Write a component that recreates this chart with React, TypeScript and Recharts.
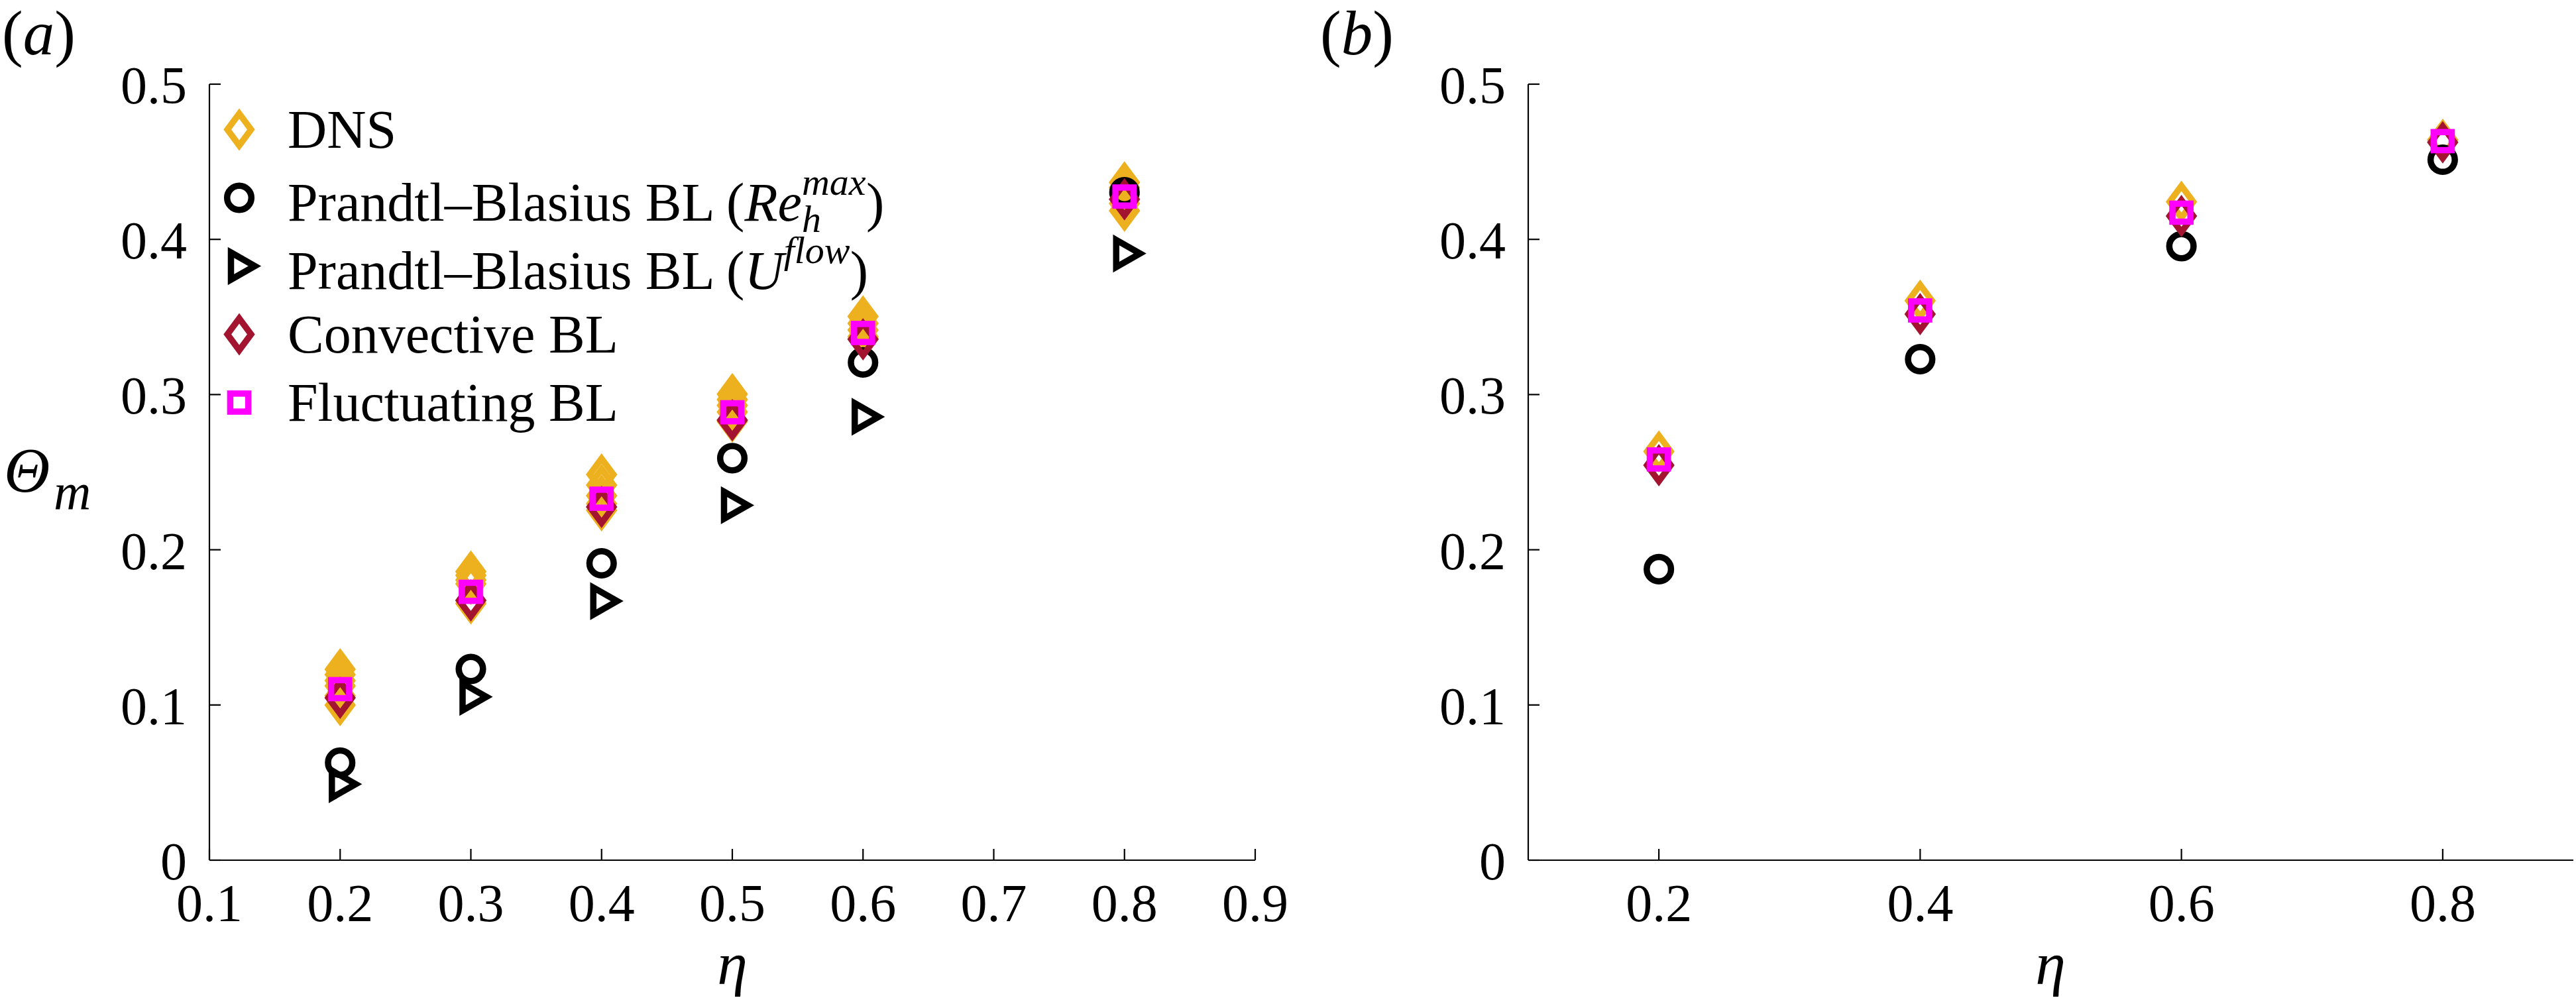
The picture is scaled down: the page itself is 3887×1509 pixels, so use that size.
import React from "react";
import { Legend, Scatter, ScatterChart, XAxis, YAxis } from "recharts";

const FONT = "'Liberation Serif', 'Times New Roman', serif";

// panel (a): eta values and Theta_m
const etaA = [0.2, 0.3, 0.4, 0.5, 0.6, 0.8];
const dnsA = [
  [0.123, 0.1196, 0.1157, 0.1123, 0.106, 0.0999],
  [0.186, 0.1835, 0.1805, 0.178, 0.1654],
  [0.2485, 0.2417, 0.2348, 0.2297, 0.2254],
  [0.3003, 0.2968, 0.293, 0.2888, 0.2827],
  [0.3503, 0.3459, 0.3416, 0.3373, 0.336],
  [0.4367, 0.4334, 0.4291, 0.4231, 0.4184],
];
const pbReA = [0.0628, 0.1232, 0.1913, 0.259, 0.3207, 0.4304];
const pbUA = [0.049, 0.1052, 0.1669, 0.2287, 0.2857, 0.3909];
const convA = [0.1046, 0.1674, 0.2276, 0.2835, 0.3356, 0.4258];
const fluctA = [0.1102, 0.1729, 0.2329, 0.2886, 0.3397, 0.4276];

// panel (b)
const etaB = [0.2, 0.4, 0.6, 0.8];
const dnsB = [0.2633, 0.3605, 0.4242, 0.4641];
const pbReB = [0.1875, 0.3228, 0.3956, 0.4513];
const convB = [0.2545, 0.3518, 0.415, 0.4625];
const fluctB = [0.2582, 0.3542, 0.4172, 0.4633];

const xTicksA = [0.1, 0.2, 0.3, 0.4, 0.5, 0.6, 0.7, 0.8, 0.9];
const xTicksB = [0.2, 0.4, 0.6, 0.8];
const yTicks = [0, 0.1, 0.2, 0.3, 0.4, 0.5];

const YELLOW = "#EDB120";
const RED = "#A2142F";
const MAGENTA = "#FF00FF";
const BLACK = "#000000";

const SW = 9.5; // marker edge width
const TICK = 17;
const AXIS_W = 2.2;

const pts = (xs: number[], ys: number[]) => xs.map((x, i) => ({ x, y: ys[i] }));
const multi = (xs: number[], ys: number[][]) =>
  xs.flatMap((x, i) => ys[i].map((y) => ({ x, y })));

function Marker({ kind, cx, cy, color }: any) {
  if (kind === "diamond")
    return (
      <path
        d={`M${cx},${cy - 24}L${cx + 17.8},${cy}L${cx},${cy + 24}L${cx - 17.8},${cy}Z`}
        fill="none" stroke={color} strokeWidth={SW} strokeMiterlimit={10}
      />
    );
  if (kind === "circle")
    return <circle cx={cx} cy={cy} r={18.3} fill="none" stroke={color} strokeWidth={SW} />;
  if (kind === "triangle")
    return (
      <path
        d={`M${cx - 12.5},${cy - 20.5}L${cx + 23.5},${cy}L${cx - 12.5},${cy + 20.5}Z`}
        fill="none" stroke={color} strokeWidth={SW} strokeMiterlimit={10}
      />
    );
  return (
    <rect x={cx - 13.6} y={cy - 13.6} width={27.2} height={27.2}
      fill="none" stroke={color} strokeWidth={SW} />
  );
}

const shape = (kind: string, color: string) => (p: any) =>
  <Marker kind={kind} cx={p.cx} cy={p.cy} color={color} />;

function BottomTick({ x, y, payload }: any) {
  return (
    <g>
      <line x1={x} y1={y} x2={x} y2={y - TICK} stroke={BLACK} strokeWidth={AXIS_W} />
      <text x={x} y={y + 92} textAnchor="middle" fontFamily={FONT} fontSize={80} fill={BLACK}>
        {payload.value}
      </text>
    </g>
  );
}
function TopTick({ x, y }: any) {
  return <line x1={x} y1={y} x2={x} y2={y + TICK} stroke={BLACK} strokeWidth={AXIS_W} />;
}
function LeftTick({ x, y, payload }: any) {
  return (
    <g>
      <line x1={x} y1={y} x2={x + TICK} y2={y} stroke={BLACK} strokeWidth={AXIS_W} />
      <text x={x - 34} y={y + 29} textAnchor="end" fontFamily={FONT} fontSize={80} fill={BLACK}>
        {payload.value}
      </text>
    </g>
  );
}
function RightTick({ x, y }: any) {
  return <line x1={x} y1={y} x2={x - TICK} y2={y} stroke={BLACK} strokeWidth={AXIS_W} />;
}

const supStyle: React.CSSProperties = {
  position: "absolute", left: 0, fontSize: 58, lineHeight: "58px", fontStyle: "italic",
};

const legendItems = [
  { kind: "diamond", color: YELLOW, label: <>DNS</> },
  {
    kind: "circle", color: BLACK,
    label: (
      <>
        Prandtl–Blasius BL (<i>Re</i>
        <span style={{ display: "inline-block", position: "relative", width: 97, height: 82 }}>
          <span style={{ ...supStyle, top: -5 }}>max</span>
          <span style={{ ...supStyle, top: 51 }}>h</span>
        </span>)
      </>
    ),
  },
  {
    kind: "triangle", color: BLACK,
    label: (
      <>
        Prandtl–Blasius BL (<i>U</i>
        <span style={{ display: "inline-block", position: "relative", width: 100, height: 82 }}>
          <span style={{ ...supStyle, top: -5 }}>flow</span>
        </span>)
      </>
    ),
  },
  { kind: "diamond", color: RED, label: <>Convective BL</> },
  { kind: "square", color: MAGENTA, label: <>Fluctuating BL</> },
];

function LegendBox() {
  return (
    <div>
      {legendItems.map((it, i) => (
        <div key={i} style={{ display: "flex", alignItems: "center", height: 103 }}>
          <svg width={72} height={103}>
            <Marker kind={it.kind} cx={36} cy={51.5} color={it.color} />
          </svg>
          <span style={{ marginLeft: 37, fontFamily: FONT, fontSize: 82, lineHeight: "82px", whiteSpace: "nowrap", color: BLACK }}>
            {it.label}
          </span>
        </div>
      ))}
    </div>
  );
}

function Axes({ xTicks }: { xTicks: number[] }) {
  return null;
}

function Panel({ width, left, xTicks, legend, series }: any) {
  const axisProps = {
    type: "number" as const,
    allowDataOverflow: true,
    tickSize: 0,
    tickMargin: 0,
    interval: 0 as const,
    axisLine: { stroke: BLACK, strokeWidth: AXIS_W },
  };
  return (
    <div style={{ position: "absolute", left, top: 0 }}>
      <ScatterChart width={width} height={1509} margin={legend
        ? { top: 127, left: 216, right: 56, bottom: 111 }
        : { top: 127, left: 256, right: 4, bottom: 111 }}>
        <XAxis xAxisId="b" dataKey="x" domain={[0.1, 0.9]} ticks={xTicks} height={100} tick={BottomTick} {...axisProps} />
        <XAxis xAxisId="t" orientation="top" dataKey="x" domain={[0.1, 0.9]} ticks={xTicks} height={0} tick={TopTick} {...axisProps} />
        <YAxis yAxisId="l" dataKey="y" domain={[0, 0.5]} ticks={yTicks} width={100} tick={LeftTick} {...axisProps} />
        <YAxis yAxisId="r" orientation="right" dataKey="y" domain={[0, 0.5]} ticks={yTicks} width={0} tick={RightTick} {...axisProps} />
        {series.map((s: any) => (
          <Scatter key={s.name} name={s.name} data={s.data} xAxisId="b" yAxisId="l"
            fill={s.color} shape={shape(s.kind, s.color)} isAnimationActive={false} />
        ))}
        {legend && (
          <Legend layout="vertical" align="center" verticalAlign="middle"
            wrapperStyle={{ left: 325, top: 144, width: 1300 }} content={() => <LegendBox />} />
        )}
      </ScatterChart>
    </div>
  );
}

const seriesA = [
  { name: "DNS", kind: "diamond", color: YELLOW, data: multi(etaA, dnsA) },
  { name: "PB Re", kind: "circle", color: BLACK, data: pts(etaA, pbReA) },
  { name: "PB U", kind: "triangle", color: BLACK, data: pts(etaA, pbUA) },
  { name: "Convective BL", kind: "diamond", color: RED, data: pts(etaA, convA) },
  { name: "Fluctuating BL", kind: "square", color: MAGENTA, data: pts(etaA, fluctA) },
];
const seriesB = [
  { name: "DNS", kind: "diamond", color: YELLOW, data: pts(etaB, dnsB) },
  { name: "PB Re", kind: "circle", color: BLACK, data: pts(etaB, pbReB) },
  { name: "Convective BL", kind: "diamond", color: RED, data: pts(etaB, convB) },
  { name: "Fluctuating BL", kind: "square", color: MAGENTA, data: pts(etaB, fluctB) },
];

export default function App() {
  return (
    <div style={{ position: "absolute", left: 0, top: 0, width: 3887, height: 1509, background: "#fff" }}>
      <Panel width={1950} left={0} xTicks={xTicksA} legend series={seriesA} />
      <Panel width={1937} left={1950} xTicks={xTicksB} legend={false} series={seriesB} />
      <svg width={3887} height={1509} style={{ position: "absolute", left: 0, top: 0, pointerEvents: "none" }}
        fontFamily={FONT} fill={BLACK}>
        <text x={3} y={82} fontSize={95}>(<tspan fontStyle="italic">a</tspan>)</text>
        <text x={1992} y={82} fontSize={95}>(<tspan fontStyle="italic">b</tspan>)</text>
        <text x={6} y={742} fontSize={96} fontStyle="italic">Θ</text>
        <text x={81} y={769} fontSize={78} fontStyle="italic">m</text>
        <text x={1105} y={1485} fontSize={92} fontStyle="italic" textAnchor="middle">η</text>
        <text x={3094} y={1485} fontSize={92} fontStyle="italic" textAnchor="middle">η</text>
      </svg>
    </div>
  );
}
